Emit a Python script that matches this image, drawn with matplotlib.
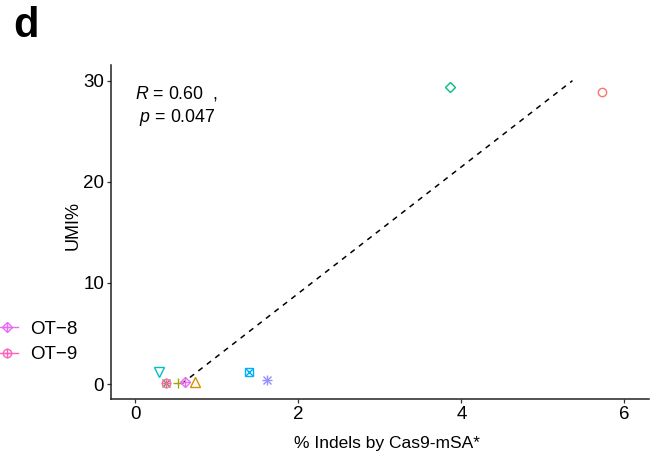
import numpy as np
import matplotlib
matplotlib.use("Agg")
import matplotlib.pyplot as plt
from matplotlib.lines import Line2D
from matplotlib.legend_handler import HandlerTuple

plt.rcParams['font.family'] = ['Liberation Sans', 'DejaVu Sans']
plt.rcParams['mathtext.fontset'] = 'custom'
plt.rcParams['mathtext.rm'] = 'Liberation Sans'
plt.rcParams['mathtext.it'] = 'Liberation Sans:italic'

# sites (ggplot hue palette order)
sites = ["On", "OT-1", "OT-2", "OT-3", "OT-4", "OT-5", "OT-6", "OT-7", "OT-8", "OT-9"]
indels = [5.73, 0.73, 0.52, 0.38, 3.86, 0.29, 1.40, 1.62, 0.61, 0.38]
umi = [28.9, 0.17, 0.13, 0.07, 29.35, 1.22, 1.16, 0.40, 0.23, 0.07]
colors = ["#F8766D", "#D89000", "#A3A500", "#39B600", "#00BF7D",
          "#00BFC4", "#00B0F6", "#9590FF", "#E76BF3", "#FF62BC"]
# ggplot shapes 1..10 built from matplotlib markers
shapes = [("o",), ("^",), ("+",), ("x",), ("D",), ("v",),
          ("s", "x"), ("+", "x"), ("D", "+"), ("o", "+")]
legend_sites = ["OT-8", "OT-9"]
r_text = "0.60"
p_text = "0.047"

msize = {"o": 6, "^": 6.5, "v": 6.5, "+": 7, "x": 5.5, "D": 5.0, "s": 5.6}

fig = plt.figure(figsize=(6.55, 4.55), dpi=100)
ax = fig.add_axes([111/655, 1-399.2/455, (648.7-111)/655, (399.2-65.5)/455])

for x, y, c, shp in zip(indels, umi, colors, shapes):
    for m in shp:
        ax.plot(x, y, marker=m, ms=msize[m], mfc='none', mec=c, mew=1.0,
                ls='none', zorder=3)

# linear fit, clipped to ylim(0, 30) like ggplot does
slope, icpt = np.polyfit(indels, umi, 1)
x0 = (0 - icpt) / slope
x1 = (30 - icpt) / slope
xs = np.linspace(x0, x1, 50)
ax.plot(xs, slope * xs + icpt, ls=(0, (3.5, 3.5)), color='black', lw=1.1, zorder=2)

ax.text(0, 27.5, "$\\it{R}$ = " + r_text + "  ,\n $\\it{p}$ = " + p_text,
        fontsize=12.8, ha='left', va='center', linespacing=1.25)

ax.set_xlim(-0.3, 6.3)
ax.set_ylim(-1.5, 31.5)
ax.set_xticks([0, 2, 4, 6])
ax.set_yticks([0, 10, 20, 30])
for s in ['top', 'right']:
    ax.spines[s].set_visible(False)
for s in ['left', 'bottom']:
    ax.spines[s].set_linewidth(1.1)
    ax.spines[s].set_color('#222222')
ax.tick_params(length=3, width=0.9, color='#333333', labelsize=13.5,
               labelcolor='black', pad=2)
ax.set_xlabel("% Indels by Cas9-mSA*", fontsize=12.5, labelpad=9)
ax.set_ylabel("UMI%", fontsize=13, labelpad=1)
ax.xaxis.label.set_x((387 - 111) / 537.7)
ax.yaxis.label.set_y((399.2 - 226) / 333.7)

handles = []
for name in legend_sites:
    i = sites.index(name)
    parts = []
    for k, m in enumerate(shapes[i]):
        parts.append(Line2D([], [], color=colors[i], marker=m, ms=msize[m],
                            mfc='none', mew=1.0, lw=1.0 if k == 0 else 0))
    handles.append(tuple(parts))
fig.legend(handles, [n.replace("-", "\u2212") for n in legend_sites],
           handler_map={tuple: HandlerTuple(ndivide=1, pad=0)},
           loc='center left', bbox_to_anchor=(-4.5/655, 1-342/455),
           frameon=False, fontsize=13.5, handlelength=1.2, handletextpad=0.67,
           borderpad=0, borderaxespad=0, labelspacing=0.45)

fig.text(13/655, 1-6/455, "d", fontsize=30, fontweight='bold', va='top', ha='left')

fig.savefig("out.png", dpi=100)
